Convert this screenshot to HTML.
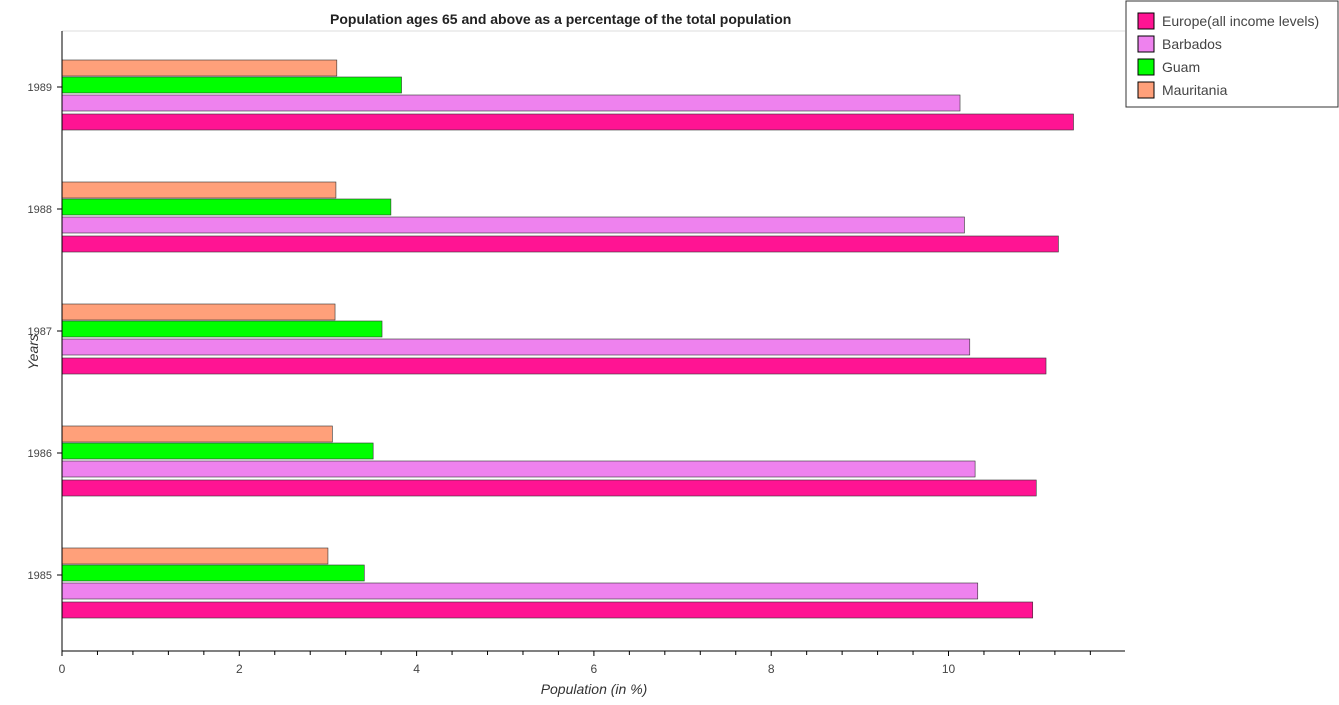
<!DOCTYPE html>
<html><head><meta charset="utf-8"><style>
body{margin:0;background:#fff;font-family:"Liberation Sans",sans-serif;}
</style></head><body>
<svg width="1339" height="700" xmlns="http://www.w3.org/2000/svg">
<text x="330" y="24" font-size="14" font-weight="bold" fill="#222">Population ages 65 and above as a percentage of the total population</text>
<line x1="62" y1="31" x2="1125" y2="31" stroke="#ddd"/>
<g id="bars"></g>
<g id="axes"></g>
<text x="594" y="694" font-size="14" font-style="italic" text-anchor="middle" fill="#333">Population (in %)</text>
<text x="0" y="0" transform="translate(38,352) rotate(-90)" font-size="14" font-style="italic" text-anchor="middle" fill="#333">Years</text>
<g>
<rect x="1126" y="1" width="212" height="106" fill="#fff" stroke="#333"/>
<g id="legend"></g>
</g>
</svg>
<script>
const years=["1985","1986","1987","1988","1989"];
const europe=[10.95,10.99,11.10,11.24,11.41];
const barbados=[10.33,10.30,10.24,10.18,10.13];
const guam=[3.41,3.51,3.61,3.71,3.83];
const mauritania=[3.00,3.05,3.08,3.09,3.10];
const xTicks=[0,2,4,6,8,10];
const seriesNames=["Europe(all income levels)","Barbados","Guam","Mauritania"];
const NS="http://www.w3.org/2000/svg";
const x=v=>62+v*88.65;
const yc=i=>575-i*122;
const series=[europe,barbados,guam,mauritania];
const colors=["#ff1493","#ee82ee","#00ff00","#ffa07a"];
const offs=[27,8,-10,-27];
const bars=document.getElementById('bars');
series.forEach((s,k)=>{s.forEach((v,i)=>{
 const r=document.createElementNS(NS,'rect');
 r.setAttribute('x',x(0));r.setAttribute('y',yc(i)+offs[k]);
 r.setAttribute('width',x(v)-x(0));r.setAttribute('height',16);
 r.setAttribute('fill',colors[k]);r.setAttribute('stroke','#333');r.setAttribute('stroke-width','0.6');
 
 
 bars.appendChild(r);
});});
const ax=document.getElementById('axes');
function mk(tag,attrs,txt){const e=document.createElementNS(NS,tag);for(const a in attrs)e.setAttribute(a,attrs[a]);if(txt!==undefined)e.textContent=txt;ax.appendChild(e);return e;}
const xl=mk('line',{x1:62,y1:651,x2:1125,y2:651,stroke:'#000'});


const yl=mk('line',{x1:62,y1:31,x2:62,y2:651,stroke:'#000'});


for(let v=0;v<=12;v+=0.4){if(x(v)>1125)break;mk('line',{x1:x(v),y1:651,x2:x(v),y2:(Math.abs(v/2-Math.round(v/2))<0.01)?656:655,stroke:'#000'});}
xTicks.forEach(v=>{const t=mk('text',{x:x(v),y:673,'font-size':12,'text-anchor':'middle',fill:'#444'},String(v));

});
years.forEach((yr,i)=>{mk('line',{x1:57,y1:yc(i),x2:62,y2:yc(i),stroke:'#000'});
const t=mk('text',{x:52,y:yc(i)+4,'font-size':11,'text-anchor':'end',fill:'#444'},yr);

});
const lg=document.getElementById('legend');
seriesNames.forEach((n,k)=>{const yy=13+k*23;
const r=document.createElementNS(NS,'rect');r.setAttribute('x',1138);r.setAttribute('y',yy);r.setAttribute('width',16);r.setAttribute('height',16);r.setAttribute('fill',colors[k]);r.setAttribute('stroke','#000');


lg.appendChild(r);
const t=document.createElementNS(NS,'text');t.setAttribute('x',1162);t.setAttribute('y',yy+13);t.setAttribute('font-size',14);t.setAttribute('fill','#444');t.textContent=n;


lg.appendChild(t);});
</script>
</body></html>
